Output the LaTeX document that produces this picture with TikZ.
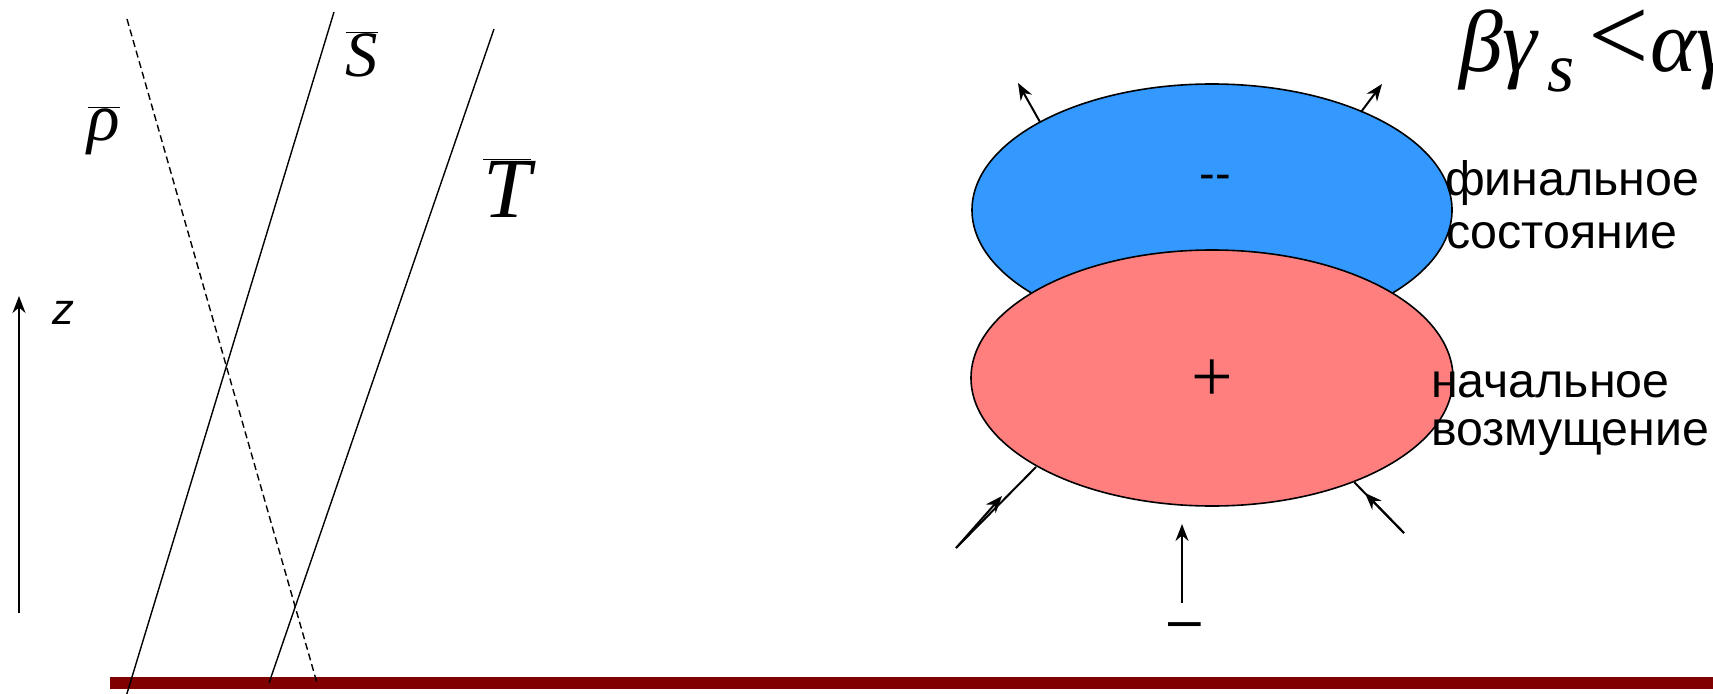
\documentclass[tikz,border=0pt]{standalone}
\usepackage{fontspec}
\setmainfont{Liberation Sans}
\newfontfamily\tms{Liberation Serif}
\usetikzlibrary{arrows.meta}
\definecolor{bluefill}{HTML}{3399FF}
\definecolor{pinkfill}{HTML}{FF7F7F}
\definecolor{barred}{HTML}{800000}
\begin{document}
\begin{tikzpicture}[x=1bp,y=-1bp,
  thinline/.style={line width=1.4bp},
  conn/.style={line width=2bp},
  arr/.style={line width=2bp,-{Stealth[length=17bp,width=13bp]}},
  blob/.style={line width=1.6bp,draw=black},
  ru/.style={font=\fontsize{48.5}{48.5}\selectfont,inner sep=0pt,anchor=base west},
  sym/.style={inner sep=0pt,anchor=center}]
\useasboundingbox (0,0) rectangle (1713,694);
\clip (0,0) rectangle (1713,694);
% ground bar
\fill[barred] (110,677) rectangle (1713,689);
% profile lines
\coordinate (rhoT) at (127,19);
\coordinate (rhoB) at (317,683);
\coordinate (sT) at (334,12);
\coordinate (sB) at (125,700);
\coordinate (tT) at (494,29);
\coordinate (tB) at (269,683);
\draw[thinline,dash pattern=on 7bp off 4bp] (rhoT) -- (rhoB);
\draw[thinline] (sT) -- (sB);
\draw[thinline] (tT) -- (tB);
\node[sym,font=\fontsize{68}{68}\selectfont] (rholab) at (104,131) {$\overline{\hbox{\tms\itshape ρ}}$};
\node[sym,font=\fontsize{65}{65}\selectfont] (slab) at (362,54) {$\overline{\hbox{\tms\itshape S}}$};
\node[sym,font=\fontsize{86}{86}\selectfont] (tlab) at (507,188) {$\overline{\hbox{\tms\itshape T}}$};
% z axis
\coordinate (z0) at (19,613);
\coordinate (z1) at (19,296);
\draw[arr] (z0) -- (z1);
\node[sym,font=\fontsize{44}{44}\selectfont\itshape] (zlab) at (63,313) {z};
% blobs
\filldraw[blob,fill=bluefill] (1212,210) ellipse [x radius=240, y radius=126];
\filldraw[blob,fill=pinkfill] (1212,378) ellipse [x radius=241, y radius=128];
\node[inner sep=0pt,anchor=base,font=\fontsize{47}{47}\selectfont] (mm) at (1215,189) {-{}-};
\node[sym,font=\tms\fontsize{74}{74}\selectfont] (pl) at (1212,381) {+};
% top arrows
\coordinate (tl0) at (1040,122);
\coordinate (tl1) at (1018,83);
\coordinate (tr0) at (1361,112);
\coordinate (tr1) at (1382,84);
\draw[arr] (tl0) -- (tl1);
\draw[arr] (tr0) -- (tr1);
% bottom arrows
\coordinate (bl0) at (956,548);
\coordinate (bl1) at (1002,496);
\coordinate (bl2) at (1036,467);
\draw[conn] (bl0) -- (bl2);
\draw[arr] (bl0) -- (bl1);
\coordinate (br0) at (1404,533);
\coordinate (br1) at (1365,493);
\coordinate (br2) at (1354,482);
\draw[conn] (br0) -- (br2);
\draw[arr] (br0) -- (br1);
\coordinate (bm0) at (1182,603);
\coordinate (bm1) at (1182,524);
\draw[arr] (bm0) -- (bm1);
\node[inner sep=0pt,anchor=base,font=\fontsize{59}{59}\selectfont] (minus) at (1185,639) {–};
% labels
\node[ru] (fin1) at (1445,195) {финальное};
\node[ru] (fin2) at (1446,248) {состояние};
\node[ru] (ini1) at (1431,397) {начальное};
\node[ru] (ini2) at (1431,445) {возмущение};
% formula
\node[inner sep=0pt,anchor=base west,font=\tms\fontsize{88}{88}\selectfont] (form) at (1459,72)
  {\itshape βγ\hspace{0.11em}\raisebox{-20bp}{\fontsize{70}{70}\selectfont s}\hspace{0.16em}{\upshape\fontsize{108}{108}\selectfont <}\hspace{0.02em}\itshape αγ};
\end{tikzpicture}
\end{document}
